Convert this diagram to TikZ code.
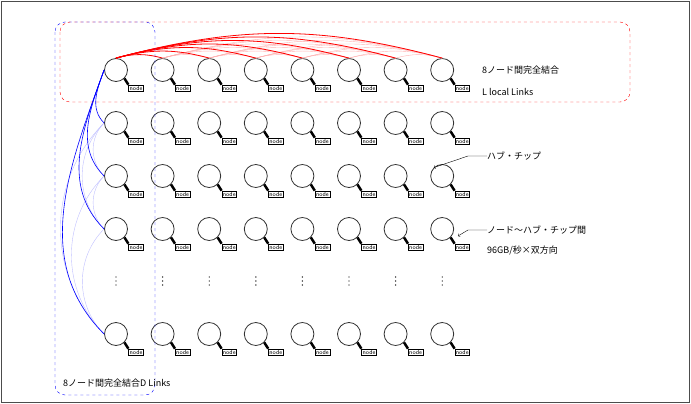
\documentclass[tikz,border=0pt]{standalone}
\usepackage{fontspec}
\setmainfont{Noto Sans CJK JP}
\usetikzlibrary{positioning}

\begin{document}
\begin{tikzpicture}[
    x=1pt, y=-1pt,
    hub/.style={circle, draw=black!80, thick, minimum size=23pt, inner sep=0pt},
    nodebox/.style={draw, fill=white, font=\fontsize{6}{6}\selectfont\sffamily, inner sep=1pt},
    label/.style={font=\fontsize{9}{10}\selectfont, anchor=west, inner sep=0pt},
    every edge/.append style={>=stealth}
]
   \useasboundingbox (0,0) rectangle (691,404);
   \draw[black!70] (1,1) rectangle (689,402);

   % Hubs and nodes
   \foreach \r/\y in {1/70,2/123,3/176,4/229,6/334}{
     \foreach \c in {1,...,8}{
       \node[hub] (h\r\c) at ({116+46.6*(\c-1)},\y) {};
       \node[nodebox] (n\r\c) at ({116+46.6*(\c-1)+20},\y+18) {node};
       \draw[line width=2.5pt] (h\r\c.-45) -- (n\r\c.north west);
     }
   }
   % vertical dots
   \foreach \c in {1,...,8}
     \foreach \d in {-4,0,4}
       \fill ({116+46.6*(\c-1)},281+\d) circle (0.7pt);

   % L local links
   \foreach \i in {2,...,7}{
     \pgfmathtruncatemacro{\s}{\i+1}
     \foreach \j in {\s,...,8}
       \draw[red!30] (h1\i.north) to[out=15,in=165] (h1\j.north);
   }
   \foreach \j in {2,...,8}
     \draw[red, thick] (h11.north) to[out=15,in=165] (h1\j.north);

   % D links
   \foreach \a/\b in {2/3,2/4,3/4,2/6,3/6,4/6}
     \draw[blue!25] (h\a1.west) to[out=225,in=135] (h\b1.west);
   \foreach \r in {2,3,4,6}
     \draw[blue, semithick] (h11.west) to[out=250,in=135] (h\r1.west);

   % groups
   \draw[red, dashed, rounded corners=10pt] (60,22) rectangle (630,102);
   \draw[blue, dashed, rounded corners=10pt] (55,22) rectangle (155,395);

   % labels
   \node[label] (tl) at (482,70) {8ノード間完全結合};
   \node[label] (tll) at (482,92) {L local Links};
   \node[label] (thub) at (487,156) {ハブ・チップ};
   \draw[->] (thub.west) -- (468,156) -- (h38.north west);
   \node[label] (tbw) at (487,230) {ノード〜ハブ・チップ間};
   \node[label] (tbw2) at (487,251) {96GB/秒×双方向};
   \draw[->] (tbw.west) -- (468,230) -- (458,236);
   \node[label] (td) at (63,383) {8ノード間完全結合D Links};
\end{tikzpicture}
\end{document}
